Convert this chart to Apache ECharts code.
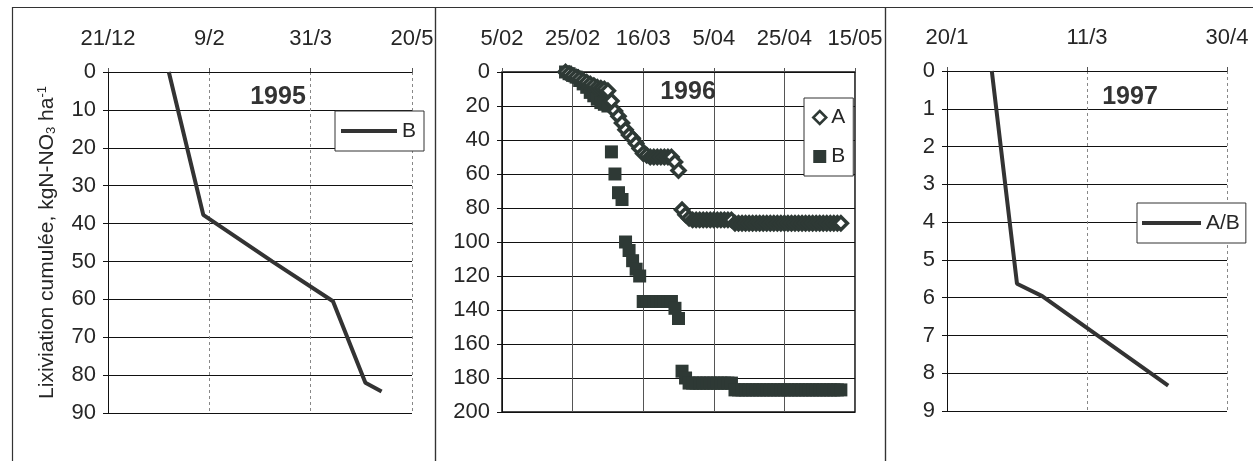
<!DOCTYPE html>
<html>
<head>
<meta charset="UTF-8">
<title>Lixiviation cumulée</title>
<script type="text/javascript" src="https://cdn.jsdelivr.net/npm/echarts@6/dist/echarts.min.js"></script>
<style>
  html, body { margin: 0; padding: 0; background: #fff; }
</style>
</head>
<body>
<div id="main" style="width:1253px;height:461px"></div>
<script type="text/javascript">
// 1995, serie B
var dates95 = ['20/01', '06/02', '12/03', '11/04', '27/04', '05/05'];
var valsB95 = [0, 37.7, 50, 60.5, 82, 84.3];

// 1996, series A et B (points journaliers)
var dates96 = [
  '23/02', '24/02', '25/02', '26/02', '27/02', '28/02', '29/02', '01/03', '02/03', '03/03',
  '04/03', '05/03', '06/03', '07/03', '08/03', '09/03', '10/03', '11/03', '12/03', '13/03',
  '14/03', '15/03', '16/03', '17/03', '18/03', '19/03', '20/03', '21/03', '22/03', '23/03',
  '24/03', '25/03', '26/03', '27/03', '28/03', '29/03', '30/03', '31/03', '01/04', '02/04',
  '03/04', '04/04', '05/04', '06/04', '07/04', '08/04', '09/04', '10/04', '11/04', '12/04',
  '13/04', '14/04', '15/04', '16/04', '17/04', '18/04', '19/04', '20/04', '21/04', '22/04',
  '23/04', '24/04', '25/04', '26/04', '27/04', '28/04', '29/04', '30/04', '01/05', '02/05',
  '03/05', '04/05', '05/05', '06/05', '07/05', '08/05', '09/05', '10/05', '11/05'
];
var valsA96 = [
  0, 1, 2, 3, 4, 5, 6, 7, 8, 9,
  9.5, 10, 11, 17, 23, 26, 30, 34, 37, 39,
  42, 45, 48, 49, 50, 50, 50, 50, 50, 50,
  50, 53, 58, 81, 84, 86, 87, 87, 87, 87,
  87, 87, 87, 87, 87, 87, 87, 87, 89, 89,
  89, 89, 89, 89, 89, 89, 89, 89, 89, 89,
  89, 89, 89, 89, 89, 89, 89, 89, 89, 89,
  89, 89, 89, 89, 89, 89, 89, 89, 89
];
var valsB96 = [
  0, 1, 2, 3, 5, 7, 9, 12, 14, 16,
  18, 19, 20, 47, 60, 71, 75, 100, 105, 111,
  116, 120, 135, 135, 135, 135, 135, 135, 135, 135,
  135, 139, 145, 176, 180, 183, 183, 183, 183, 183,
  183, 183, 183, 183, 183, 183, 183, 183, 187, 187,
  187, 187, 187, 187, 187, 187, 187, 187, 187, 187,
  187, 187, 187, 187, 187, 187, 187, 187, 187, 187,
  187, 187, 187, 187, 187, 187, 187, 187, 187
];

// 1997, serie A/B
var dates97 = ['05/02', '14/02', '23/02', '09/04'];
var valsAB97 = [0, 5.63, 5.96, 8.33];

var DAY = 86400000;
var FONT = "'Liberation Sans', Arial, sans-serif";
var INK = '#262626';
var MARK = '#2e3935';

var base95 = Date.UTC(1994, 11, 21);
var base96 = Date.UTC(1996, 1, 5);
var base97 = Date.UTC(1997, 0, 20);

function toDays(str, year, base) {
  var p = str.split('/');
  return (Date.UTC(year, +p[1] - 1, +p[0]) - base) / DAY;
}
function pairs(dates, vals, year, base) {
  return dates.map(function (d, i) { return [toDays(d, year, base), vals[i]]; });
}
function fmtShort(base) {
  return function (v) {
    var d = new Date(base + v * DAY);
    return d.getUTCDate() + '/' + (d.getUTCMonth() + 1);
  };
}
function fmtPad(base) {
  return function (v) {
    var d = new Date(base + v * DAY);
    var m = d.getUTCMonth() + 1;
    return d.getUTCDate() + '/' + (m < 10 ? '0' + m : m);
  };
}

function xAxisFor(idx, max, interval, formatter, vLine) {
  return {
    type: 'value', gridIndex: idx, position: 'top',
    min: 0, max: max, interval: interval,
    axisLine: { show: true, lineStyle: { color: '#111', width: 1 } },
    axisTick: { show: true, length: 4, lineStyle: { color: '#555' } },
    axisLabel: { formatter: formatter, margin: 22, fontFamily: FONT, fontSize: 22, color: INK },
    splitLine: { show: true, lineStyle: vLine }
  };
}
function yAxisFor(idx, max, interval) {
  return {
    type: 'value', gridIndex: idx, inverse: true,
    min: 0, max: max, interval: interval,
    axisLine: { show: true, lineStyle: { color: '#111', width: 1 } },
    axisTick: { show: true, length: 5, lineStyle: { color: '#111' } },
    axisLabel: { margin: 12, fontFamily: FONT, fontSize: 22, color: INK },
    splitLine: { show: true, lineStyle: { color: '#111', width: 1 } }
  };
}

var dashed = { color: '#888', type: [3, 3], width: 1 };
var solidGrey = { color: '#555', width: 1 };

var yFirst = yAxisFor(0, 90, 10);
yFirst.name = 'Lixiviation cumulée, kgN-NO{sub|3} ha{sup|-1}';
yFirst.nameLocation = 'middle';
yFirst.nameGap = 50;
yFirst.nameTextStyle = {
  fontFamily: FONT, fontSize: 21, color: INK,
  rich: {
    sub: { fontFamily: FONT, fontSize: 13, color: INK, verticalAlign: 'bottom', padding: [9, 0, 0, 0] },
    sup: { fontFamily: FONT, fontSize: 13, color: INK, verticalAlign: 'top', padding: [0, 0, 9, 0] }
  }
};

var myChart = echarts.init(document.getElementById('main'));

function frame(x, w) {
  return { type: 'rect', shape: { x: x, y: 7.5, width: w, height: 470 },
           style: { fill: 'none', stroke: '#333', lineWidth: 1.2 }, silent: true, z: 0 };
}
function yearText(x, y, txt) {
  return { type: 'text', x: x, y: y, z: 10,
           style: { text: txt, fill: '#333', font: 'bold 25px ' + FONT, align: 'center', verticalAlign: 'middle' } };
}
function lineLegend(name, left, top, width, pad) {
  return {
    data: [{ name: name, icon: 'rect' }], left: left, top: top, orient: 'vertical',
    itemWidth: width, itemHeight: 4, padding: pad,
    borderColor: '#333', borderWidth: 1, backgroundColor: '#fff',
    formatter: function (n) { return n.split('-')[0]; },
    textStyle: { fontFamily: FONT, fontSize: 21, color: INK, lineHeight: 22 }
  };
}

var option = {
  animation: false,
  backgroundColor: '#fff',
  grid: [
    { left: 108, top: 72, width: 304, height: 341 },
    { left: 502, top: 72, width: 353, height: 340, show: true, borderColor: '#111', borderWidth: 1.5, backgroundColor: 'transparent' },
    { left: 947, top: 71, width: 280, height: 340 }
  ],
  xAxis: [
    xAxisFor(0, 150, 50, fmtShort(base95), dashed),
    xAxisFor(1, 100, 20, fmtPad(base96), solidGrey),
    xAxisFor(2, 100, 50, fmtShort(base97), dashed)
  ],
  yAxis: [
    yFirst,
    yAxisFor(1, 200, 20),
    yAxisFor(2, 9, 1)
  ],
  legend: [
    lineLegend('B-1995', 335, 111, 56, [9, 8, 9, 6]),
    {
      data: [
        { name: 'A-1996', itemStyle: { color: '#fff', borderColor: MARK, borderWidth: 2.5 } },
        { name: 'B-1996' }
      ],
      left: 804, top: 98, orient: 'vertical',
      itemWidth: 13, itemHeight: 13, itemGap: 18, padding: [9, 8, 9, 8],
      borderColor: '#333', borderWidth: 1, backgroundColor: '#fff',
      formatter: function (n) { return n.split('-')[0]; },
      textStyle: { fontFamily: FONT, fontSize: 21, color: INK }
    },
    lineLegend('A/B-1997', 1137, 203, 59, [9, 6, 9, 5])
  ],
  graphic: [
    frame(12.5, 423),
    frame(435.5, 450),
    frame(885.5, 380),
    yearText(278, 97, '1995'),
    yearText(688, 92, '1996'),
    yearText(1130, 97, '1997')
  ],
  series: [
    {
      name: 'B-1995', type: 'line', xAxisIndex: 0, yAxisIndex: 0,
      data: pairs(dates95, valsB95, 1995, base95),
      symbol: 'none', lineStyle: { color: '#333', width: 4 }, itemStyle: { color: '#333' }
    },
    {
      name: 'B-1996', type: 'scatter', xAxisIndex: 1, yAxisIndex: 1,
      data: pairs(dates96, valsB96, 1996, base96),
      symbol: 'rect', symbolSize: 13, itemStyle: { color: MARK, opacity: 1 }, z: 2
    },
    {
      name: 'A-1996', type: 'scatter', xAxisIndex: 1, yAxisIndex: 1,
      data: pairs(dates96, valsA96, 1996, base96),
      symbol: 'diamond', symbolSize: 13,
      itemStyle: { color: '#fff', borderColor: MARK, borderWidth: 3.5, opacity: 1 }, z: 3
    },
    {
      name: 'A/B-1997', type: 'line', xAxisIndex: 2, yAxisIndex: 2,
      data: pairs(dates97, valsAB97, 1997, base97),
      symbol: 'none', lineStyle: { color: '#333', width: 4 }, itemStyle: { color: '#333' }
    }
  ]
};

myChart.setOption(option);
</script>
</body>
</html>
